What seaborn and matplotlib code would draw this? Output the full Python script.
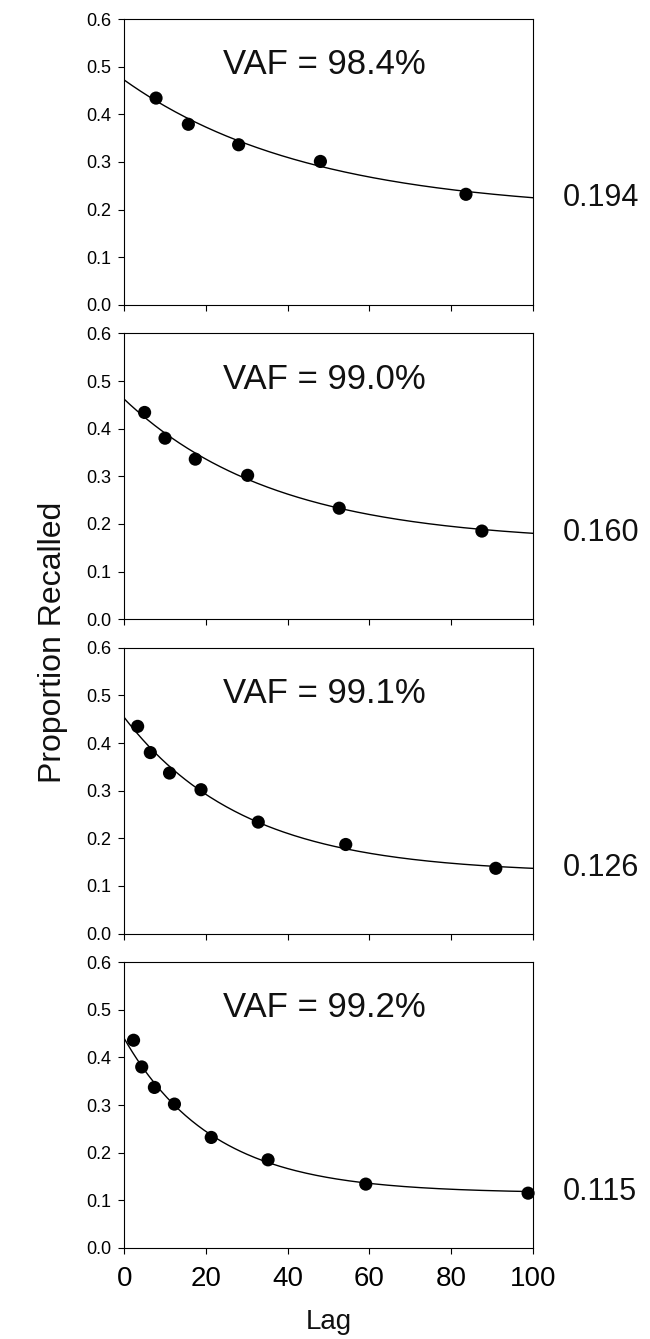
import numpy as np
import pandas as pd
import matplotlib
matplotlib.use('Agg')
import matplotlib.pyplot as plt
import matplotlib.transforms as mtransforms
import seaborn as sns

# lags and proportion recalled for each of the four panels
lags_1 = [7.8, 15.7, 28.0, 48.0, 83.6]
recall_1 = [0.434, 0.379, 0.336, 0.301, 0.232]

lags_2 = [5.0, 10.0, 17.4, 30.2, 52.6, 87.5]
recall_2 = [0.434, 0.380, 0.336, 0.302, 0.233, 0.185]

lags_3 = [3.3, 6.4, 11.1, 18.8, 32.8, 54.2, 90.9]
recall_3 = [0.435, 0.380, 0.337, 0.302, 0.234, 0.187, 0.137]

lags_4 = [2.3, 4.3, 7.4, 12.3, 21.3, 35.2, 59.1, 98.8]
recall_4 = [0.436, 0.380, 0.337, 0.302, 0.232, 0.185, 0.134, 0.115]

vaf = ['98.4', '99.0', '99.1', '99.2']
asymptote = [0.194, 0.160, 0.126, 0.115]
# fitted exponential curves
fit_start = [0.472, 0.462, 0.454, 0.440]
fit_rate = [0.022, 0.027, 0.034, 0.046]

all_lags = [lags_1, lags_2, lags_3, lags_4]
all_recall = [recall_1, recall_2, recall_3, recall_4]

sns.set_theme(style='ticks')
plt.rcParams['font.family'] = ['Liberation Sans', 'DejaVu Sans']
plt.rcParams['axes.edgecolor'] = 'black'
plt.rcParams['axes.linewidth'] = 0.8

fig, axes = plt.subplots(4, 1, figsize=(6.5, 13.39), dpi=100, sharex=True)
fig.subplots_adjust(left=0.191, right=0.82, top=0.9858, bottom=0.068, hspace=0.1)

grid = np.linspace(0, 100, 201)
for i, ax in enumerate(axes):
    pts = pd.DataFrame({'lag': all_lags[i], 'recall': all_recall[i]})
    a, y0, k = asymptote[i], fit_start[i], fit_rate[i]
    curve = pd.DataFrame({'lag': grid, 'recall': a + (y0 - a) * np.exp(-k * grid)})

    sns.lineplot(data=curve, x='lag', y='recall', ax=ax, color='black', lw=1.0)
    sns.scatterplot(data=pts, x='lag', y='recall', ax=ax, color='black',
                    s=90, edgecolor='none', clip_on=False, zorder=3)

    ax.set_xlim(0, 100)
    ax.set_ylim(0, 0.6)
    ax.set_xticks(range(0, 101, 20))
    ax.set_yticks(np.arange(0, 0.61, 0.1))
    ax.yaxis.set_major_formatter(matplotlib.ticker.FormatStrFormatter('%.1f'))
    ax.tick_params(axis='y', direction='out', length=4, width=0.8, labelsize=13, pad=5, colors='black')
    ax.tick_params(axis='x', direction='out', length=4, width=0.8, labelsize=20, pad=9, colors='black')
    ax.set_xlabel('')
    ax.set_ylabel('')
    for sp in ax.spines.values():
        sp.set_visible(True)
        sp.set_color('black')

    ax.text(0.49, 0.84, f'VAF = {vaf[i]}%', transform=ax.transAxes,
            ha='center', va='center', fontsize=25, color='#111111')
    trans = mtransforms.blended_transform_factory(ax.transAxes, ax.transData)
    end_val = curve['recall'].iloc[-1]
    ax.text(1.073, end_val, f'{asymptote[i]:.3f}', transform=trans,
            ha='left', va='center', fontsize=22, color='#111111')

axes[-1].set_xlabel('Lag', fontsize=20, labelpad=12, color='#111111')
fig.supylabel('Proportion Recalled', x=0.058, y=0.52, fontsize=23, color='#111111')

fig.savefig('out.png', dpi=100)
